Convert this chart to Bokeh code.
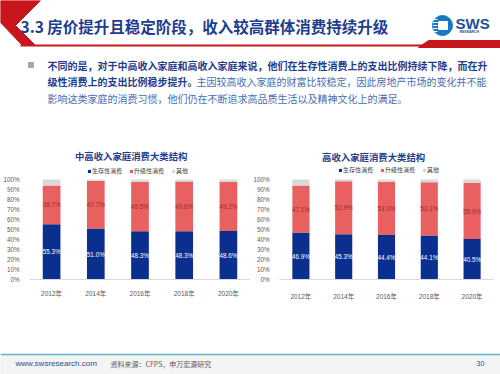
from bokeh.plotting import figure
from bokeh.layouts import column, row
from bokeh.models import Range1d, FactorRange, ColumnDataSource, Legend, LegendItem, NumeralTickFormatter
from bokeh.core.properties import value
from bokeh.embed import file_html
from bokeh.resources import INLINE

# ---------------- data ----------------
years = ["2012年", "2014年", "2016年", "2018年", "2020年"]
series = ["生存性消费", "升级性消费", "其他"]
mid_survival = [55.3, 51.0, 48.3, 48.3, 48.6]
mid_upgrade = [38.7, 47.7, 49.5, 49.8, 49.2]
mid_other = [6.0, 1.3, 2.2, 1.9, 2.2]
high_survival = [46.9, 45.3, 44.4, 44.1, 40.5]
high_upgrade = [47.1, 52.9, 53.3, 53.1, 55.9]
high_other = [6.0, 1.8, 2.3, 2.8, 3.6]
y_ticks = [0, 0.1, 0.2, 0.3, 0.4, 0.5, 0.6, 0.7, 0.8, 0.9, 1.0]

slide_title = "3.3 房价提升且稳定阶段，收入较高群体消费持续升级"
bullet_l1 = "不同的是，对于中高收入家庭和高收入家庭来说，他们在生存性消费上的支出比例持续下降，而在升"
bullet_l2a = "级性消费上的支出比例稳步提升。"
bullet_l2b = "主因较高收入家庭的财富比较稳定，因此房地产市场的变化并不能"
bullet_l3 = "影响这类家庭的消费习惯，他们仍在不断追求高品质生活以及精神文化上的满足。"
chart1_title = "中高收入家庭消费大类结构"
chart2_title = "高收入家庭消费大类结构"
footer_url = "www.swsresearch.com"
footer_src = "资料来源：CFPS，申万宏源研究"
page_no = "30"

BLUE = "#0B2F8E"
RED = "#E8605F"
GRAY = "#D9D9D9"
NAVY = "#1F3C8C"
CJK = "'Noto Sans CJK SC'"
LAT = "'Liberation Sans', 'Noto Sans CJK SC'"


def bare(fig):
    fig.grid.visible = False
    fig.outline_line_color = None
    fig.background_fill_color = "white"
    fig.border_fill_color = "white"
    fig.title.visible = False


# ---------------- header ----------------
h = figure(width=500, height=145, x_range=Range1d(0, 500), y_range=Range1d(145, 0),
           output_backend="svg", toolbar_location=None, x_axis_type=None, y_axis_type=None,
           min_border=0)
bare(h)
h.patch([0, 40, 15, 34, 21, 0], [0, 0, 25, 44, 44, 22], color="#C8161D")
h.line([20, 424], [45, 45], line_color="#C8161D", line_width=2)
h.patch([418, 428, 500, 500, 418], [47, 40, 40, 47, 47], color="#C8161D")
h.text([20], [25], text=[slide_title], text_font=value(CJK), text_font_size="15.5px",
       text_font_style="bold", text_color=NAVY, text_baseline="middle")
# logo
h.scatter([442], [25], size=20, marker="circle", color="#1A78C2")
h.quad(left=[438], right=[447], top=[21], bottom=[29], color="white")
for yy in [19, 22, 25, 28, 31]:
    h.line([432.5, 437], [yy, yy], line_color="white", line_width=1)
h.text([455], [23], text=["SWS"], text_font=value("Liberation Sans"), text_font_size="15px",
       text_font_style="bold", text_color="#1F4E9A", text_baseline="middle")
h.text([459], [31.5], text=["RESEARCH"], text_font=value("Liberation Sans"), text_font_size="3.5px",
       text_font_style="bold", text_color="#1F4E9A", text_baseline="middle")
# bullet
h.quad(left=[28], right=[33], top=[62], bottom=[67], color="#A6A6A6")
h.text([47], [64.5], text=[bullet_l1], text_font=value(CJK), text_font_size="10px",
       text_font_style="bold", text_color=NAVY, text_baseline="middle")
h.text([47], [81], text=[bullet_l2a], text_font=value(CJK), text_font_size="10px",
       text_font_style="bold", text_color=NAVY, text_baseline="middle")
h.text([196], [81], text=[bullet_l2b], text_font=value(CJK), text_font_size="10px",
       text_color="#4A6DB0", text_baseline="middle")
h.text([47], [97.5], text=[bullet_l3], text_font=value(CJK), text_font_size="10px",
       text_color="#4A6DB0", text_baseline="middle")


# ---------------- charts ----------------
def make_chart(title, surv, upg, oth, bl, br, bb, y_end, standoff, title_xy, leg_xy):
    p = figure(x_range=FactorRange(*years), y_range=Range1d(0, y_end), width=250, height=160,
               output_backend="svg", toolbar_location=None,
               min_border_left=bl, min_border_right=br, min_border_top=0, min_border_bottom=bb)
    bare(p)
    src = ColumnDataSource(dict(
        x=years,
        s=[v / 100 for v in surv],
        u=[v / 100 for v in upg],
        o=[v / 100 for v in oth],
    ))
    rs = p.vbar_stack(["s", "u", "o"], x="x", width=0.4, color=[BLUE, RED, GRAY],
                      line_color=None, source=src)
    lab = ColumnDataSource(dict(
        x=years + years,
        y=[v / 200 for v in surv] + [(s + u / 2) / 100 for s, u in zip(surv, upg)],
        t=[f"{v:.1f}%" for v in surv] + [f"{v:.1f}%" for v in upg],
        c=["white"] * len(surv) + ["#9A2E2E"] * len(upg),
    ))
    p.text(x="x", y="y", text="t", text_color="c", source=lab, text_align="center",
           text_baseline="middle", text_font_size="6.3px", text_font=value("Liberation Sans"))
    p.text(x=[title_xy[0]], y=[title_xy[1]], text=[title], text_align="center",
           text_baseline="middle", text_font=value(CJK), text_font_size="9.4px",
           text_font_style="bold", text_color=NAVY)
    legend = Legend(items=[LegendItem(label=n, renderers=[r]) for n, r in zip(series, rs)],
                    orientation="horizontal", location=leg_xy,
                    label_text_font_size="6px", label_text_font=CJK, label_text_color="#404040",
                    glyph_width=4, glyph_height=4, label_standoff=1, spacing=7,
                    padding=0, margin=0, border_line_alpha=0, background_fill_alpha=0,
                    label_height=6)
    p.add_layout(legend, "center")
    p.yaxis.ticker = y_ticks
    p.yaxis.formatter = NumeralTickFormatter(format="0%")
    p.yaxis.axis_line_color = None
    p.yaxis.major_tick_line_color = None
    p.yaxis.minor_tick_line_color = None
    p.yaxis.major_label_text_font_size = "6.3px"
    p.yaxis.major_label_text_font = "Liberation Sans"
    p.yaxis.major_label_text_color = "#595959"
    p.yaxis.major_label_standoff = 4
    p.xaxis.axis_line_color = GRAY
    p.xaxis.major_tick_line_color = None
    p.xaxis.minor_tick_line_color = None
    p.xaxis.major_label_text_font_size = "6.5px"
    p.xaxis.major_label_text_font = LAT
    p.xaxis.major_label_text_color = "#595959"
    p.xaxis.major_label_standoff = standoff
    return p


p1 = make_chart(chart1_title, mid_survival, mid_upgrade, mid_other,
                24, 0, 26, 1.34, 4, (2.3, 1.24), (58, 104))
p2 = make_chart(chart2_title, high_survival, high_upgrade, high_other,
                22, 7, 22, 1.34, 7, (2.2, 1.223), (59, 105))

# ---------------- footer ----------------
f = figure(width=500, height=69, x_range=Range1d(0, 500), y_range=Range1d(374, 305),
           output_backend="svg", toolbar_location=None, x_axis_type=None, y_axis_type=None,
           min_border=0)
bare(f)
f.quad(left=[0], right=[500], top=[354], bottom=[374], color="#F4F4F4")
f.line([0, 500], [354, 354], line_color="#5BB7C9", line_width=1.5)
f.text([15], [363], text=[footer_url], text_font=value("Liberation Sans"), text_font_size="8px",
       text_color="#1F4E9A", text_baseline="middle")
f.text([110], [363], text=[footer_src], text_font=value(CJK), text_font_size="7px",
       text_color="#595959", text_baseline="middle")
f.text([476], [363], text=[page_no], text_font=value("Liberation Sans"), text_font_size="7px",
       text_color="#1F4E9A", text_baseline="middle")

layout = column(h, row(p1, p2), f)
open("out.html", "w").write(file_html(layout, INLINE))
